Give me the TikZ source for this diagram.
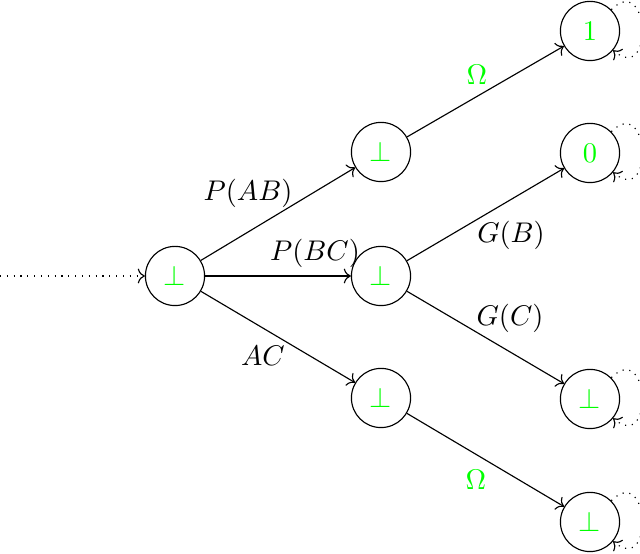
\documentclass[tikz,border=0pt]{standalone}
\usetikzlibrary{arrows.meta}
\begin{document}
\begin{tikzpicture}[x=0.3516pt,y=-0.3516pt,
  state/.style={circle,draw,minimum size=20.8pt,inner sep=0pt,text=green},
  arr/.style={-{To}},
  lbl/.style={inner sep=0pt},
  glbl/.style={inner sep=0pt,text=green},
  selfloop/.style={-{To[sep=0pt]},dotted,looseness=3.4}]
\useasboundingbox (0,0) rectangle (640,554);
\node[state] (q0) at (175,276) {$\bot$};
\node[state] (a1) at (381,152) {$\bot$};
\node[state] (a2) at (381,276) {$\bot$};
\node[state] (a3) at (381,398) {$\bot$};
\node[state] (r1) at (590,31) {$1$};
\node[state] (r2) at (590,153) {$0$};
\node[state] (r3) at (590,399) {$\bot$};
\node[state] (r4) at (590,522) {$\bot$};
\coordinate (s) at (0,276);
\draw[arr,dotted] (s) -- (q0);
\draw[arr] (q0) -- (a1);
\draw[arr] (q0) -- (a2);
\draw[arr] (q0) -- (a3);
\draw[arr] (a1) -- (r1);
\draw[arr] (a2) -- (r2);
\draw[arr] (a2) -- (r3);
\draw[arr] (a3) -- (r4);
\foreach \n in {r1,r2,r3,r4}{
  \draw[selfloop] (\n.45) to[out=45,in=-40] (\n.-40);
}
\node[lbl] (lab) at (248,193) {$P(AB)$};
\node[lbl] (lbc) at (315,253) {$P(BC)$};
\node[lbl] (lac) at (263,356) {$AC$};
\node[lbl] (lgb) at (511,235) {$G(B)$};
\node[lbl] (lgc) at (510,318) {$G(C)$};
\node[glbl] (lo1) at (477,75) {$\Omega$};
\node[glbl] (lo2) at (476,480) {$\Omega$};
\end{tikzpicture}
\end{document}
